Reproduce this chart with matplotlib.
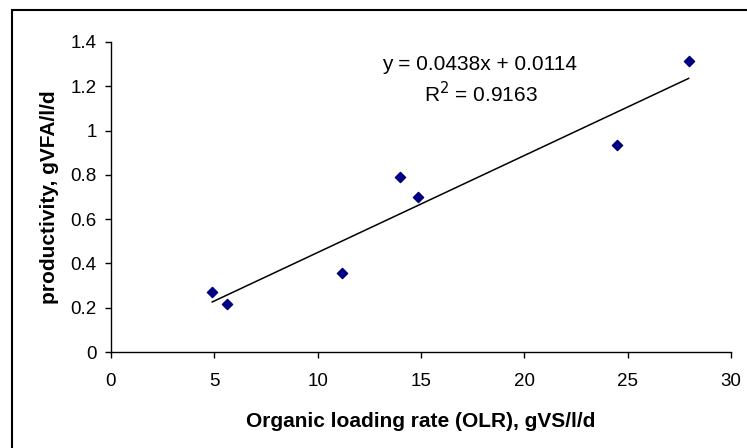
import matplotlib
matplotlib.use("Agg")
import matplotlib.pyplot as plt
import numpy as np
from matplotlib.patches import Rectangle

# data
olr = [4.9, 5.6, 11.2, 14.0, 14.85, 24.5, 27.95]
productivity = [0.272, 0.215, 0.355, 0.79, 0.70, 0.935, 1.315]
slope, intercept, r2 = 0.0438, 0.0114, 0.9163
x_ticks = [0, 5, 10, 15, 20, 25, 30]
y_ticks = [0, 0.2, 0.4, 0.6, 0.8, 1.0, 1.2, 1.4]
y_tick_labels = ["0", "0.2", "0.4", "0.6", "0.8", "1", "1.2", "1.4"]

plt.rcParams['font.family'] = ['Liberation Sans', 'DejaVu Sans']

fig = plt.figure(figsize=(7.47, 4.48), dpi=100)
# outer frame of the chart area
fig.patches.append(Rectangle((12 / 747, -0.05), 1.0, 1 - 10 / 448 + 0.05,
                             transform=fig.transFigure, fill=False,
                             edgecolor='black', linewidth=1.5))

ax = fig.add_axes([111 / 747, 1 - 352 / 448, (731 - 111) / 747, (352 - 42) / 448])

x_fit = np.array([min(olr), max(olr)])
ax.plot(x_fit, slope * x_fit + intercept, color='black', linewidth=1.1)
ax.scatter(olr, productivity, marker='D', s=27, color='#000080', zorder=3)

ax.set_xlim(0, 30)
ax.set_ylim(0, 1.4)
ax.set_xticks(x_ticks)
ax.set_yticks(y_ticks)
ax.set_yticklabels(y_tick_labels)
ax.tick_params(direction='out', length=4.3, width=1, labelsize=13.5)
ax.tick_params(axis='x', pad=10.5)
ax.tick_params(axis='y', pad=6)
for side in ['top', 'right']:
    ax.spines[side].set_visible(False)
for side in ['left', 'bottom']:
    ax.spines[side].set_linewidth(1)

ax.set_xlabel("Organic loading rate (OLR), gVS/l/d", fontsize=15,
              fontweight='bold', labelpad=16)
ax.set_ylabel("productivity, gVFA/l/d", fontsize=15,
              fontweight='bold', labelpad=8)

ax.text(0.595, 0.926, f"y = {slope}x + {intercept}", transform=ax.transAxes,
        ha='center', va='center', fontsize=15)
ax.text(0.597, 0.835, f"R$^2$ = {r2}", transform=ax.transAxes,
        ha='center', va='center', fontsize=15)

fig.savefig("out.png", dpi=100)
